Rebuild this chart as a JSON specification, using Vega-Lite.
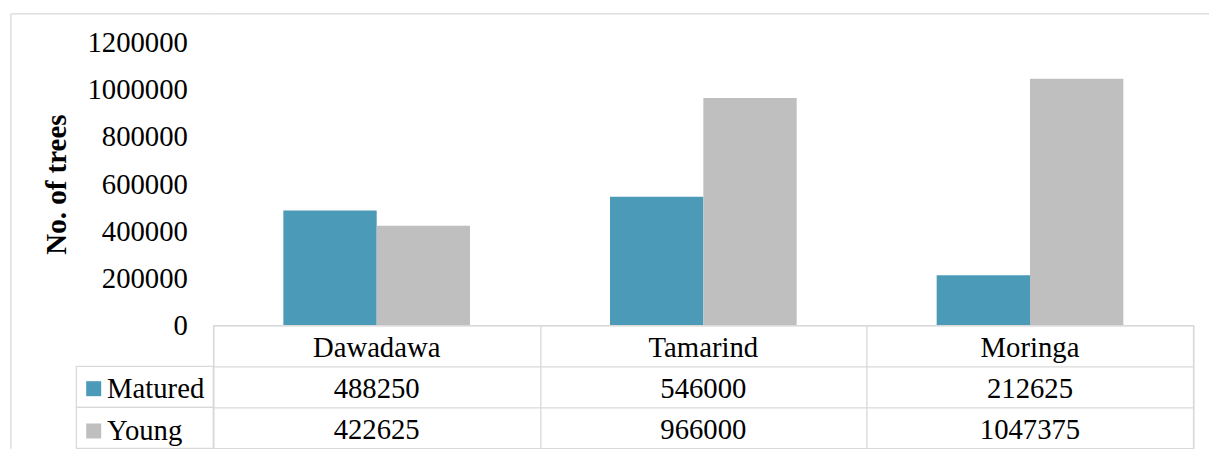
{
  "$schema": "https://vega.github.io/schema/vega-lite/v6.json",
  "padding": {"left": 7.35, "top": 13.35, "right": 0, "bottom": 0},
  "background": "white",
  "columns": 3,
  "spacing": 0,
  "align": "each",
  "bounds": "flush",
  "resolve": {"scale": {"color": "independent"}},
  "config": {
    "view": {"stroke": null},
    "font": "Liberation Serif",
    "text": {"font": "Liberation Serif"},
    "axis": {"labelFont": "Liberation Serif", "titleFont": "Liberation Serif"},
    "legend": {"labelFont": "Liberation Serif", "titleFont": "Liberation Serif"}
  },
  "datasets": {
    "trees": [
      {"tree": "Dawadawa", "series": "Matured", "n": 488250},
      {"tree": "Dawadawa", "series": "Young", "n": 422625},
      {"tree": "Tamarind", "series": "Matured", "n": 546000},
      {"tree": "Tamarind", "series": "Young", "n": 966000},
      {"tree": "Moringa", "series": "Matured", "n": 212625},
      {"tree": "Moringa", "series": "Young", "n": 1047375}
    ]
  },
  "concat": [
    {
      "width": 203,
      "height": 312,
      "data": {"values": [{"v": 0}]},
      "mark": {"type": "point", "opacity": 0},
      "encoding": {
        "x": {"field": "v", "type": "quantitative", "scale": {"domain": [0, 1]}, "axis": {"orient": "top", "domainColor": "#D9D9D9", "domainWidth": 1.3, "labels": false, "ticks": false, "grid": false, "title": null}},
        "y": {"field": "v", "type": "quantitative", "scale": {"domain": [0, 1]}, "axis": {"orient": "left", "domainColor": "#D9D9D9", "domainWidth": 1.3, "labels": false, "ticks": false, "grid": false, "title": null}}
      }
    },
    {
      "width": 980,
      "height": 312,
      "data": {"name": "trees"},
      "mark": {"type": "bar"},
      "encoding": {
        "x": {"field": "tree", "type": "nominal", "sort": ["Dawadawa", "Tamarind", "Moringa"], "scale": {"paddingInner": 0.4286, "paddingOuter": 0.2143},
              "axis": {"orient": "top", "domainColor": "#D9D9D9", "domainWidth": 1.3, "labels": false, "ticks": false, "grid": false, "title": null}},
        "xOffset": {"field": "series", "sort": ["Matured", "Young"], "scale": {"paddingInner": 0, "paddingOuter": 0}},
        "y": {"field": "n", "type": "quantitative", "scale": {"domain": [0, 1325000], "nice": false},
              "axis": {"values": [0, 200000, 400000, 600000, 800000, 1000000, 1200000], "format": "d", "labelFontSize": 28.7, "labelColor": "black", "labelPadding": 26, "ticks": false, "domain": false, "grid": false,
                       "title": "No. of trees", "titleFontSize": 29, "titleFontWeight": "bold", "titleColor": "black", "titlePadding": 15, "titleY": 170.7}},
        "color": {"field": "series", "type": "nominal", "scale": {"domain": ["Matured", "Young"], "range": ["#4A9AB8", "#BFBFBF"]},
                  "legend": {"orient": "none", "legendX": -134, "legendY": 361, "title": null, "symbolType": "square", "symbolSize": 225, "symbolStrokeWidth": 0, "labelFontSize": 28.7, "labelColor": "black", "labelOffset": -1, "rowPadding": 12.3, "padding": 0, "direction": "vertical"}}
      }
    },
    {
      "width": 16,
      "height": 312,
      "data": {"values": [{"v": 0}]},
      "mark": {"type": "point", "opacity": 0},
      "encoding": {
        "x": {"field": "v", "type": "quantitative", "scale": {"domain": [0, 1]}, "axis": {"orient": "top", "domainColor": "#D9D9D9", "domainWidth": 1.3, "labels": false, "ticks": false, "grid": false, "title": null}}
      }
    },
    {
      "width": 203,
      "height": 123,
      "data": {"name": "trees"},
      "transform": [{"aggregate": [{"op": "count", "as": "c"}], "groupby": ["series"]}],
      "mark": {"type": "rect", "fillOpacity": 0, "stroke": "#D9D9D9", "strokeWidth": 1.3},
      "encoding": {
        "x": {"datum": "cell", "type": "nominal", "scale": {"domain": ["cell"], "paddingInner": 0, "paddingOuter": 0.2409, "align": 1}, "axis": null},
        "y": {"field": "series", "type": "nominal", "scale": {"domain": ["header", "Matured", "Young"], "paddingInner": 0, "paddingOuter": 0},
              "axis": {"orient": "left", "domainColor": "#D9D9D9", "domainWidth": 1.3, "labels": false, "ticks": false, "grid": false, "title": null}}
      }
    },
    {
      "width": 980,
      "height": 123,
      "view": {"stroke": "#D9D9D9", "strokeWidth": 1.3},
      "data": {"name": "trees"},
      "encoding": {
        "x": {"field": "tree", "type": "nominal", "sort": ["Dawadawa", "Tamarind", "Moringa"], "scale": {"paddingInner": 0, "paddingOuter": 0},
              "axis": {"grid": true, "tickBand": "extent", "gridColor": "#D9D9D9", "gridWidth": 1.3, "domain": false, "ticks": false, "labels": false, "title": null}}
      },
      "layer": [
        {
          "transform": [{"filter": "datum.series == 'Matured'"}],
          "mark": {"type": "text", "fontSize": 28.7, "font": "Liberation Serif", "color": "black", "dy": 2},
          "encoding": {
            "y": {"datum": "header", "type": "nominal", "scale": {"domain": ["header", "Matured", "Young"], "paddingInner": 0, "paddingOuter": 0},
                  "axis": {"grid": true, "tickBand": "extent", "gridColor": "#D9D9D9", "gridWidth": 1.3, "domain": false, "ticks": false, "labels": false, "title": null}},
            "text": {"field": "tree"}
          }
        },
        {
          "mark": {"type": "text", "fontSize": 28.7, "font": "Liberation Serif", "color": "black", "dy": 2},
          "encoding": {
            "y": {"field": "series", "type": "nominal", "scale": {"domain": ["header", "Matured", "Young"], "paddingInner": 0, "paddingOuter": 0}},
            "text": {"field": "n", "type": "quantitative", "format": "d"}
          }
        }
      ]
    }
  ]
}
